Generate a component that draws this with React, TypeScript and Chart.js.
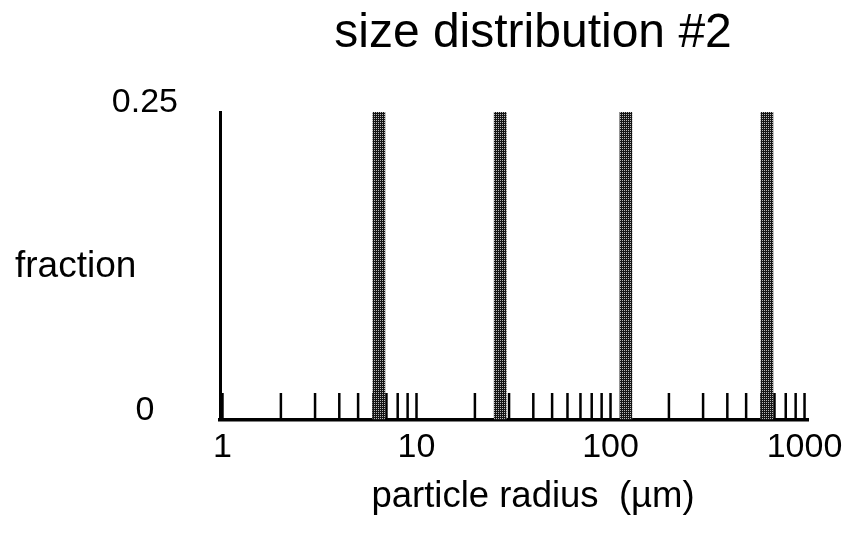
import React, { useEffect, useRef } from "react";
import { Chart, registerables } from "chart.js";

Chart.register(...registerables);

// ---- data ----
const radii = [6.4, 27, 120, 640]; // particle radius (µm)
const fractions = [0.25, 0.25, 0.25, 0.25];
const xTickValues = [
  1, 2, 3, 4, 5, 6, 7, 8, 9,
  10, 20, 30, 40, 50, 60, 70, 80, 90,
  100, 200, 300, 400, 500, 600, 700, 800, 900,
  1000,
];
const xLabelValues = [1, 10, 100, 1000];
const yTickValues = [0, 0.25];
const yTickLabels = ["0", "0.25"];

const titleText = "size distribution #2";
const yTitleText = "fraction";
const xTitleText = "particle radius  (\u00b5m)";

const FONT = "'Liberation Sans', Arial, Helvetica, sans-serif";

export default function App() {
  const ref = useRef<HTMLCanvasElement | null>(null);

  useEffect(() => {
    const canvas = ref.current!;
    const ctx = canvas.getContext("2d")!;

    const pc = document.createElement("canvas");
    pc.width = 2;
    pc.height = 2;
    const pctx = pc.getContext("2d")!;
    pctx.fillStyle = "#151515";
    pctx.fillRect(0, 0, 2, 2);
    pctx.fillStyle = "#b8b8b8";
    pctx.fillRect(0, 0, 1, 1);
    const pattern = ctx.createPattern(pc, "repeat")!;

    const innerTicks = {
      id: "innerTicks",
      beforeDatasetsDraw(chart: any) {
        const xs = chart.scales.x;
        const area = chart.chartArea;
        const c = chart.ctx;
        c.save();
        c.strokeStyle = "#000";
        c.lineWidth = 2.5;
        for (const t of xs.ticks) {
          const px = xs.getPixelForValue(t.value);
          c.beginPath();
          c.moveTo(px, area.bottom);
          c.lineTo(px, area.bottom - 27);
          c.stroke();
        }
        c.restore();
      },
    };

    const texts = {
      id: "texts",
      afterDraw(chart: any) {
        const c = chart.ctx;
        const area = chart.chartArea;
        const cx = (area.left + area.right) / 2 + 19;
        c.save();
        c.fillStyle = "#000";
        c.textBaseline = "alphabetic";
        c.textAlign = "center";
        c.font = `48px ${FONT}`;
        c.fillText(titleText, cx, 47);
        c.font = `36.5px ${FONT}`;
        c.fillText(xTitleText, cx, 507);
        c.textAlign = "left";
        c.font = `37px ${FONT}`;
        c.fillText(yTitleText, 15, 277);
        c.restore();
      },
    };

    const chart = new Chart(ctx, {
      type: "bar",
      data: {
        datasets: [
          {
            data: radii.map((r, i) => ({ x: r, y: fractions[i] })),
            backgroundColor: pattern as any,
            borderWidth: 0,
            barThickness: 12,
          } as any,
        ],
      },
      options: {
        responsive: false,
        animation: false,
        layout: { padding: { top: 112, right: 52, left: 0, bottom: 0 } },
        plugins: {
          legend: { display: false },
          tooltip: { enabled: false },
          title: { display: false },
        },
        scales: {
          x: {
            type: "logarithmic",
            min: 0.971,
            max: 1042,
            afterBuildTicks(scale: any) {
              scale.ticks = xTickValues.map((v) => ({ value: v }));
            },
            afterFit(scale: any) {
              scale.height = 114;
            },
            grid: { display: false, drawTicks: false },
            border: { display: true, color: "#000", width: 3.5 },
            ticks: {
              autoSkip: false,
              maxRotation: 0,
              minRotation: 0,
              padding: 7,
              color: "#000",
              font: { family: FONT, size: 34 },
              callback: (v: any) =>
                xLabelValues.includes(Number(v)) ? String(v) : "",
            },
          },
          y: {
            type: "linear",
            min: 0,
            max: 0.25,
            afterBuildTicks(scale: any) {
              scale.ticks = yTickValues.map((v) => ({ value: v }));
            },
            afterFit(scale: any) {
              scale.width = 220;
            },
            grid: { display: false, drawTicks: false },
            border: { display: true, color: "#000", width: 3 },
            ticks: {
              crossAlign: "center",
              padding: 42,
              labelOffset: -9,
              color: "#000",
              font: { family: FONT, size: 34 },
              callback: (v: any) => {
                const i = yTickValues.indexOf(Number(v));
                return i >= 0 ? yTickLabels[i] : "";
              },
            },
          },
        },
      } as any,
      plugins: [innerTicks, texts],
    });

    return () => chart.destroy();
  }, []);

  return (
    <div
      style={{
        position: "fixed",
        left: 0,
        top: 0,
        width: 860,
        height: 534,
        background: "#fff",
      }}
    >
      <canvas ref={ref} width={860} height={534} style={{ display: "block" }} />
    </div>
  );
}
